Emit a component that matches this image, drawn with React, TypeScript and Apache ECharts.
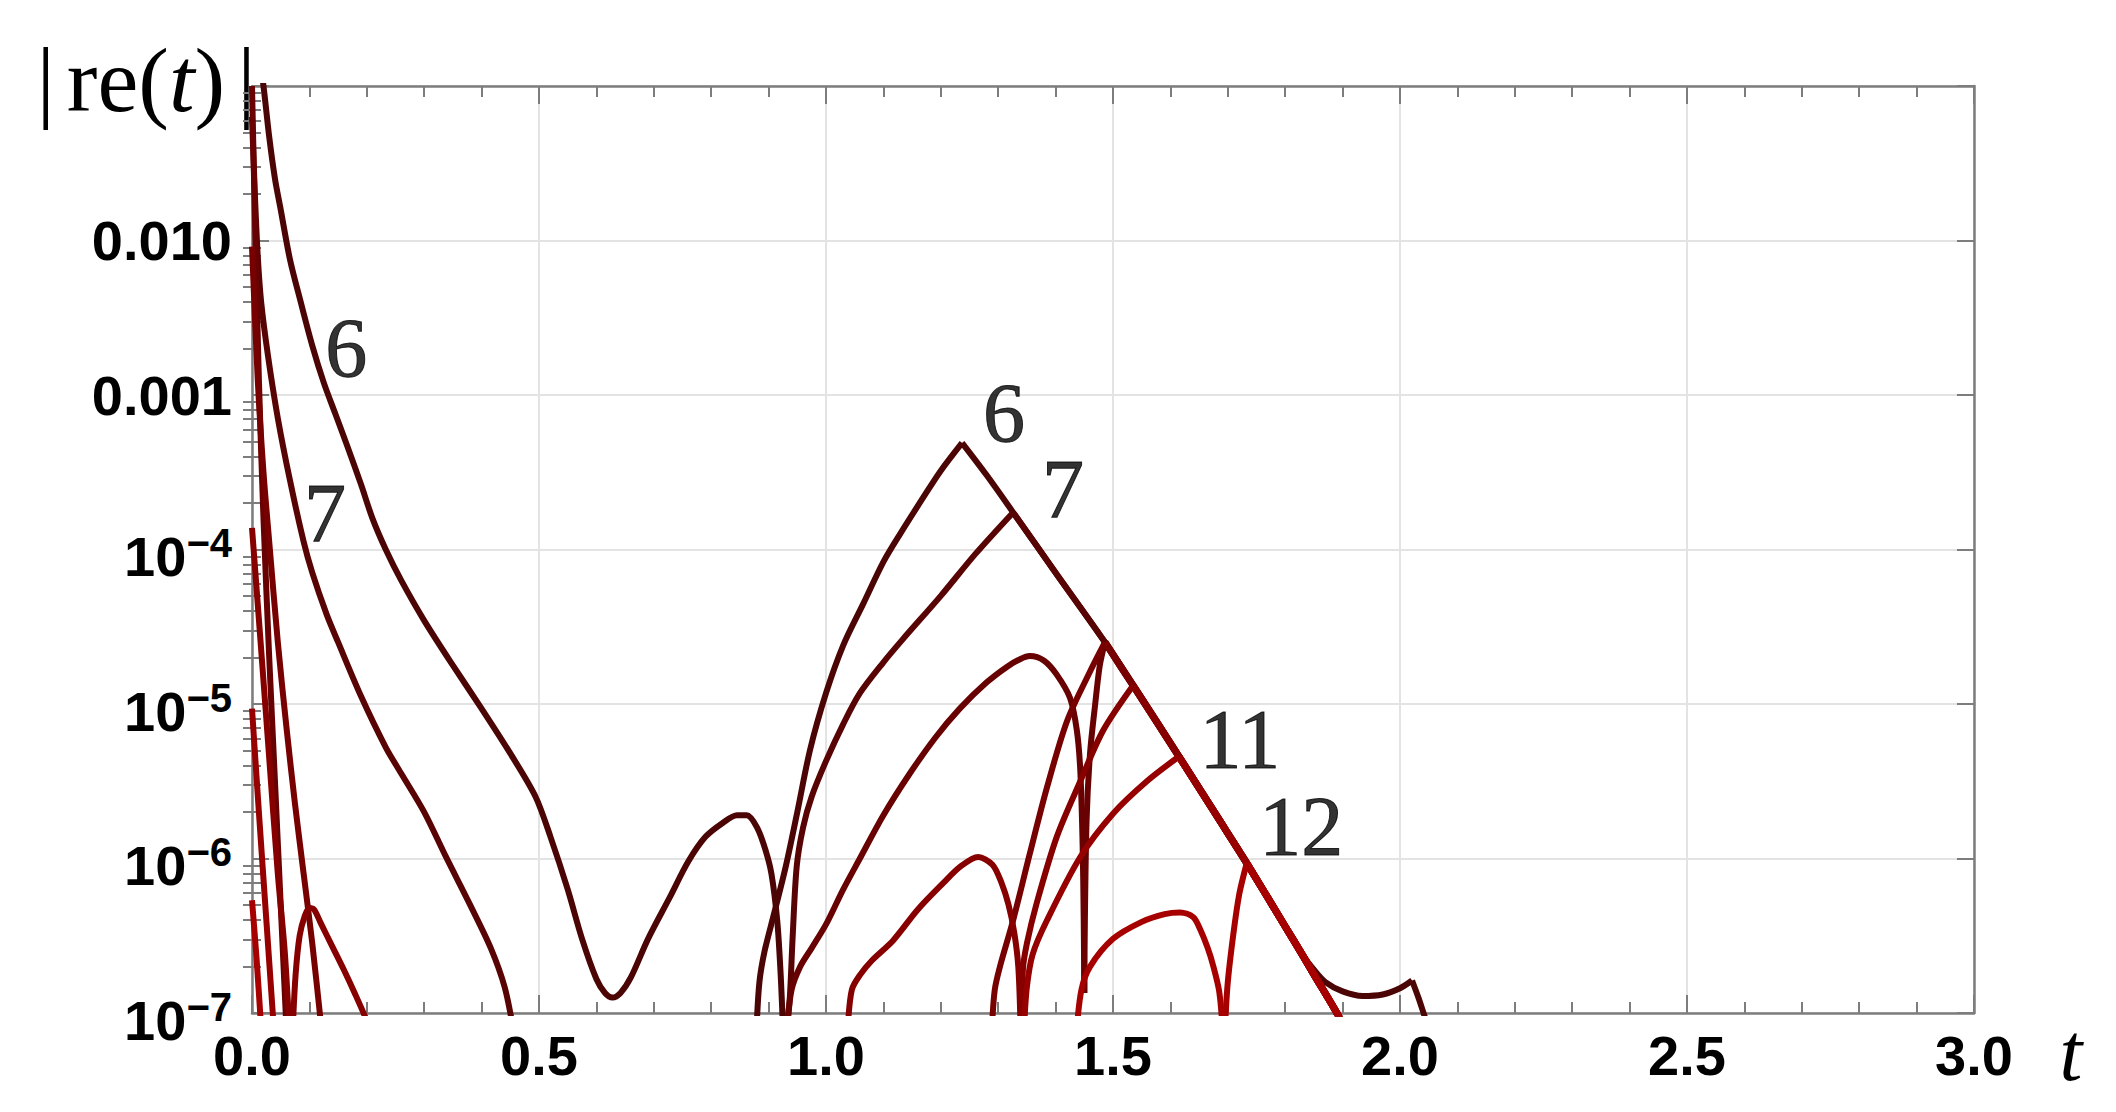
import { useEffect, useRef } from 'react';
import * as echarts from 'echarts';

// Readings from the picture: [t, log10 |re(t)|]  (log axis, 1e-7 .. 0.1)
// Points at about -7.1 lie just below the visible range (curve leaves the plot there).
// Each array is one smooth stretch of a curve; sharp corners sit at the ends of arrays.

const ENVELOPE = [
  [1.237, -3.31], [1.28, -3.52], [1.326, -3.76], [1.4, -4.15], [1.486, -4.6],
  [1.535, -4.88], [1.615, -5.34], [1.68, -5.72], [1.733, -6.03], [1.8, -6.44],
  [1.831, -6.63], [1.85, -6.75], [1.89, -7.0], [1.91, -7.15],
];

// order 6
const S6_DECAY = [
  [0.012, -0.8], [0.02, -1.0], [0.03, -1.33], [0.04, -1.6], [0.05, -1.8], [0.066, -2.12],
  [0.085, -2.4], [0.105, -2.68], [0.125, -2.92], [0.145, -3.12], [0.165, -3.32], [0.19, -3.58],
  [0.21, -3.8], [0.233, -4.0], [0.26, -4.2], [0.3, -4.46], [0.35, -4.75], [0.4, -5.03],
  [0.45, -5.32], [0.494, -5.6], [0.52, -5.86], [0.55, -6.2], [0.575, -6.52], [0.6, -6.78],
  [0.615, -6.87], [0.628, -6.9], [0.642, -6.87], [0.66, -6.77], [0.69, -6.52], [0.728, -6.25],
  [0.76, -6.02], [0.79, -5.86], [0.82, -5.77], [0.845, -5.72], [0.862, -5.72], [0.88, -5.8],
  [0.895, -5.95], [0.905, -6.1], [0.915, -6.4], [0.921, -6.75], [0.925, -7.1],
];
const S6_RISE = [
  [0.879, -7.1], [0.884, -6.8], [0.893, -6.6], [0.91, -6.35], [0.93, -6.05], [0.95, -5.7],
  [0.972, -5.3], [1.0, -4.93], [1.03, -4.62], [1.065, -4.35], [1.1, -4.08], [1.129, -3.9],
  [1.17, -3.66], [1.2, -3.49], [1.237, -3.31],
];
const S6_TAIL = [
  [1.831, -6.63], [1.85, -6.72], [1.87, -6.8], [1.9, -6.86], [1.935, -6.89], [1.97, -6.88],
  [2.0, -6.84], [2.021, -6.79],
];
const S6_END = [[2.021, -6.79], [2.032, -6.9], [2.041, -7.0], [2.05, -7.1]];

// order 7
const S7_DECAY = [
  [0.0, -1.2], [0.005, -1.7], [0.01, -2.1], [0.016, -2.4], [0.028, -2.75], [0.045, -3.15],
  [0.066, -3.55], [0.09, -3.95], [0.105, -4.15], [0.13, -4.42], [0.15, -4.6], [0.19, -4.95],
  [0.233, -5.28], [0.26, -5.45], [0.3, -5.7], [0.338, -5.99], [0.38, -6.3], [0.416, -6.58],
  [0.44, -6.83], [0.455, -7.1],
];
const S7_RISE = [
  [0.932, -7.1], [0.937, -6.9], [0.942, -6.5], [0.949, -6.05], [0.96, -5.8], [0.975, -5.6],
  [1.0, -5.37], [1.03, -5.13], [1.059, -4.93], [1.1, -4.73], [1.134, -4.58], [1.2, -4.3],
  [1.26, -4.03], [1.326, -3.76],
];

// order 8
const S8_DECAY = [
  [0.0, -1.0], [0.006, -2.0], [0.012, -2.9], [0.02, -3.8], [0.03, -4.7], [0.04, -5.5],
  [0.05, -6.3], [0.06, -7.1],
];
const S8_BUMP = [
  [0.932, -7.1], [0.94, -6.85], [0.955, -6.7], [0.975, -6.58], [1.001, -6.42], [1.03, -6.2],
  [1.059, -6.0], [1.1, -5.72], [1.146, -5.45], [1.19, -5.22], [1.233, -5.03], [1.28, -4.86],
  [1.315, -4.76], [1.338, -4.71], [1.355, -4.69], [1.38, -4.72], [1.402, -4.81], [1.425, -4.96],
  [1.437, -5.17], [1.443, -5.43], [1.447, -5.9], [1.449, -6.4], [1.45, -6.87],
];
const S8_RISE = [
  [1.45, -6.87], [1.451, -6.4], [1.454, -5.75], [1.46, -5.32], [1.469, -5.0], [1.477, -4.75],
  [1.486, -4.6],
];

// order 9
const S9_DECAY = [
  [0.0, -2.04], [0.01, -2.9], [0.02, -3.5], [0.03, -3.95], [0.045, -4.6], [0.06, -5.15],
  [0.075, -5.65], [0.09, -6.1], [0.105, -6.55], [0.121, -7.1],
];
const S9_RISE = [
  [1.289, -7.1], [1.294, -6.85], [1.303, -6.7], [1.326, -6.4], [1.355, -5.97], [1.385, -5.54],
  [1.42, -5.11], [1.46, -4.79], [1.486, -4.6],
];

// order 10
const S10_DECAY = [[0.0, -3.86], [0.015, -4.6], [0.03, -5.35], [0.045, -6.1], [0.057, -6.6], [0.065, -7.1]];
const S10_EARLY_BUMP = [
  [0.071, -7.1], [0.076, -6.75], [0.083, -6.5], [0.092, -6.37], [0.1, -6.32], [0.108, -6.33],
  [0.12, -6.42], [0.14, -6.57], [0.16, -6.72], [0.18, -6.88], [0.2, -7.05], [0.204, -7.1],
];
const S10_BUMP = [
  [1.038, -7.1], [1.045, -6.85], [1.06, -6.75], [1.08, -6.66], [1.117, -6.53], [1.16, -6.33],
  [1.204, -6.16], [1.235, -6.05], [1.265, -5.99], [1.29, -6.04], [1.305, -6.15], [1.318, -6.3],
  [1.328, -6.48], [1.335, -6.7], [1.339, -7.1],
];
const S10_RISE = [
  [1.341, -7.1], [1.343, -6.72], [1.35, -6.55], [1.367, -6.29], [1.402, -5.86], [1.443, -5.5],
  [1.483, -5.17], [1.535, -4.88],
];

// order 11
const S11_DECAY = [[0.0, -5.03], [0.012, -5.7], [0.025, -6.4], [0.038, -7.1]];
const S11_RISE = [
  [1.345, -7.1], [1.35, -6.83], [1.36, -6.62], [1.385, -6.4], [1.443, -5.99], [1.5, -5.71],
  [1.559, -5.5], [1.615, -5.34],
];

// order 12
const S12_DECAY = [[0.0, -6.27], [0.008, -6.65], [0.016, -7.1]];
const S12_BUMP = [
  [1.437, -7.1], [1.445, -6.85], [1.46, -6.7], [1.5, -6.52], [1.55, -6.41], [1.59, -6.36],
  [1.617, -6.35], [1.64, -6.38], [1.652, -6.46], [1.665, -6.58], [1.675, -6.7], [1.685, -6.86],
  [1.691, -7.1],
];
const S12_RISE = [[1.695, -7.1], [1.7, -6.8], [1.71, -6.48], [1.72, -6.23], [1.733, -6.03]];

// t at which each curve meets the common envelope (and where 6 leaves it)
const ORDERS = ['6', '7', '8', '9', '10', '11', '12'];
const JOIN_T = [1.237, 1.326, 1.486, 1.486, 1.535, 1.615, 1.733];
const LEAVE_T_6 = 1.831;

const CURVE_LABELS = [
  { name: '6', t: 0.164, v: 2.0e-3 },
  { name: '7', t: 0.127, v: 1.7e-4 },
  { name: '6', t: 1.31, v: 7.6e-4 },
  { name: '7', t: 1.413, v: 2.45e-4 },
  { name: '11', t: 1.721, v: 5.9e-6 },
  { name: '12', t: 1.828, v: 1.6e-6 },
];

const X_TICK_LABELS = ['0.0', '0.5', '1.0', '1.5', '2.0', '2.5', '3.0'];
const Y_TICK_LABELS: Record<string, string> = {
  '-1': '',
  '-2': '0.010',
  '-3': '0.001',
  '-4': '{b|10}{s|\u22124}',
  '-5': '{b|10}{s|\u22125}',
  '-6': '{b|10}{s|\u22126}',
  '-7': '{b|10}{s|\u22127}',
};

const COLORS = ['#4c0505', '#590404', '#680202', '#770101', '#860000', '#960000', '#a70000'];

const toValues = (arr: number[][]) => arr.map(([t, e]) => [t, Math.pow(10, e)]);

function buildPieces(): { pts: number[][]; env: boolean }[][] {
  const env = (from: number, to = 99) => ({
    pts: ENVELOPE.filter((p) => p[0] >= from && p[0] <= to),
    env: true,
  });
  const own = (pts: number[][]) => ({ pts, env: false });
  return [
    [own(S6_DECAY), own(S6_RISE), env(JOIN_T[0], LEAVE_T_6), own(S6_TAIL), own(S6_END)],
    [own(S7_DECAY), own(S7_RISE), env(JOIN_T[1])],
    [own(S8_DECAY), own(S8_BUMP), own(S8_RISE), env(JOIN_T[2])],
    [own(S9_DECAY), own(S9_RISE), env(JOIN_T[3])],
    [own(S10_DECAY), own(S10_EARLY_BUMP), own(S10_BUMP), own(S10_RISE), env(JOIN_T[4])],
    [own(S11_DECAY), own(S11_RISE), env(JOIN_T[5])],
    [own(S12_DECAY), own(S12_BUMP), own(S12_RISE), env(JOIN_T[6])],
  ];
}

const MINOR_Y: number[] = [];
for (let e = -7; e <= -2; e++) {
  for (let k = 2; k <= 9; k++) MINOR_Y.push(k * Math.pow(10, e));
}

export default function App() {
  const ref = useRef<HTMLDivElement>(null);

  useEffect(() => {
    if (!ref.current) return;
    const chart = echarts.init(ref.current, undefined, { renderer: 'svg' });
    const frame = '#7d7d7d';
    const gridColor = '#e3e3e3';
    const tickFont = { fontFamily: 'Liberation Sans', fontWeight: 'bold' as const, color: '#000' };

    const lineSeries: any[] = [];
    buildPieces().forEach((pieces, i) => {
      pieces.forEach((piece) => {
        lineSeries.push({
          type: 'line',
          name: ORDERS[i],
          data: toValues(piece.pts),
          showSymbol: false,
          symbol: 'none',
          smooth: 0.3,
          clip: true,
          silent: true,
          z: 3 + i,
          lineStyle: {
            color: COLORS[i],
            width: piece.env && i >= 2 ? 7 : 6,
            join: 'round',
            cap: 'butt',
          },
        });
      });
    });

    const baseY = { type: 'log', logBase: 10, min: 1e-7, max: 0.1, splitNumber: 6 };

    const option: any = {
      animation: false,
      backgroundColor: '#ffffff',
      grid: { left: 252, top: 86, width: 1722, height: 927, containLabel: false },
      xAxis: [
        {
          type: 'value',
          min: 0,
          max: 3,
          interval: 0.5,
          position: 'bottom',
          axisLine: { show: true, onZero: false, lineStyle: { color: frame, width: 2.5 } },
          axisTick: { show: true, inside: true, length: 18, lineStyle: { color: frame, width: 2 } },
          minorTick: { show: true, splitNumber: 5, length: 11, lineStyle: { color: frame, width: 2 } },
          splitLine: { show: true, lineStyle: { color: gridColor, width: 2 } },
          axisLabel: {
            ...tickFont,
            fontSize: 56,
            margin: 14,
            formatter: (v: number) => X_TICK_LABELS[Math.round(v / 0.5)] ?? '',
          },
        },
        {
          type: 'value',
          min: 0,
          max: 3,
          interval: 0.5,
          position: 'top',
          axisLine: { show: true, onZero: false, lineStyle: { color: frame, width: 2.5 } },
          axisTick: { show: true, inside: true, length: 18, lineStyle: { color: frame, width: 2 } },
          minorTick: { show: true, splitNumber: 5, length: 11, lineStyle: { color: frame, width: 2 } },
          splitLine: { show: false },
          axisLabel: { show: false },
        },
      ],
      yAxis: [
        {
          ...baseY,
          position: 'left',
          axisLine: { show: true, onZero: false, lineStyle: { color: frame, width: 2.5 } },
          axisTick: { show: true, inside: true, length: 17, lineStyle: { color: frame, width: 2 } },
          splitLine: { show: true, lineStyle: { color: gridColor, width: 2 } },
          axisLabel: {
            ...tickFont,
            fontSize: 56,
            margin: 20,
            align: 'right',
            formatter: (v: number) => Y_TICK_LABELS[String(Math.round(Math.log10(v)))] ?? '',
            rich: {
              b: { ...tickFont, fontSize: 56, padding: [14, 0, 0, 0], verticalAlign: 'middle' },
              s: { ...tickFont, fontSize: 40, padding: [0, 0, 13, 0], verticalAlign: 'middle' },
            },
          },
        },
        {
          ...baseY,
          position: 'right',
          axisLine: { show: true, onZero: false, lineStyle: { color: frame, width: 2.5 } },
          axisTick: { show: true, inside: true, length: 17, lineStyle: { color: frame, width: 2 } },
          splitLine: { show: false },
          axisLabel: { show: false },
        },
        {
          ...baseY,
          position: 'left',
          offset: 0,
          axisLine: { show: false },
          axisTick: {
            show: true,
            inside: true,
            length: 9,
            customValues: MINOR_Y,
            lineStyle: { color: frame, width: 2 },
          },
          splitLine: { show: false },
          axisLabel: { show: false },
        },
        {
          ...baseY,
          position: 'right',
          offset: 0,
          axisLine: { show: false },
          axisTick: {
            show: true,
            inside: true,
            length: 9,
            customValues: MINOR_Y,
            lineStyle: { color: frame, width: 2 },
          },
          splitLine: { show: false },
          axisLabel: { show: false },
        },
      ],
      graphic: [
        {
          type: 'text',
          x: 146,
          y: 80,
          style: {
            text: '{bl||}{n|re(}{i|t}{n|)}{br||}',
            align: 'center',
            verticalAlign: 'middle',
            rich: {
              bl: { fontFamily: 'Liberation Serif', fontSize: 92, fill: '#000', padding: [0, 12, 0, 0] },
              br: { fontFamily: 'Liberation Serif', fontSize: 92, fill: '#000', padding: [0, 0, 0, 12] },
              n: { fontFamily: 'Liberation Serif', fontSize: 92, fill: '#000' },
              i: { fontFamily: 'Liberation Serif', fontSize: 92, fontStyle: 'italic', fill: '#000' },
            },
          },
        },
        {
          type: 'text',
          x: 2071,
          y: 1052,
          style: {
            text: 't',
            fontFamily: 'Liberation Serif',
            fontSize: 82,
            fontStyle: 'italic',
            fill: '#000',
            align: 'center',
            verticalAlign: 'middle',
          },
        },
      ],
      series: [
        ...lineSeries,
        {
          type: 'scatter',
          silent: true,
          symbolSize: 1,
          z: 20,
          itemStyle: { color: 'rgba(0,0,0,0)' },
          data: CURVE_LABELS.map((l) => ({ name: l.name, value: [l.t, l.v] })),
          label: {
            show: true,
            position: 'inside',
            formatter: (p: any) => p.name,
            fontFamily: 'Liberation Serif',
            fontSize: 84,
            color: '#000',
            textBorderColor: '#000',
            textBorderWidth: 1,
          },
        },
      ],
    };

    chart.setOption(option);
    return () => chart.dispose();
  }, []);

  return (
    <div
      ref={ref}
      style={{ position: 'fixed', left: 0, top: 0, width: 2116, height: 1112, background: '#fff' }}
    />
  );
}
